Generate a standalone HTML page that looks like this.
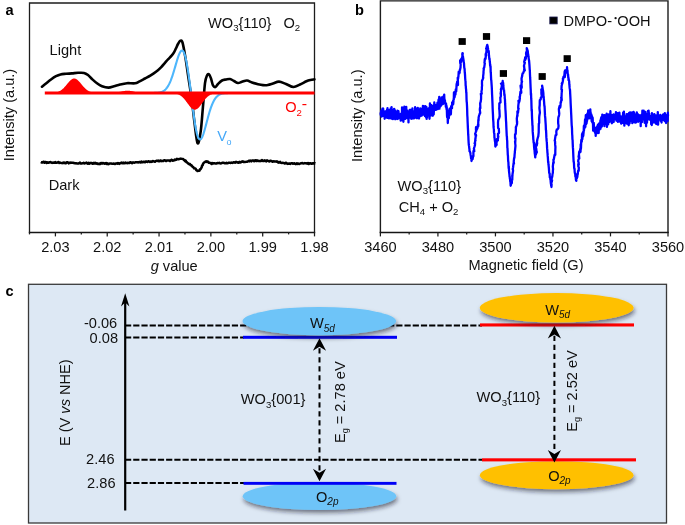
<!DOCTYPE html>
<html><head><meta charset="utf-8"><style>
html,body{margin:0;padding:0;background:#fff;width:685px;height:525px;overflow:hidden}
svg{display:block;will-change:transform}
.t{font-family:"Liberation Sans", sans-serif;font-size:14.6px;fill:#111}
.sub{font-size:9.6px}
.subi{font-size:10px;font-style:italic}
.lbl{font-family:"Liberation Sans", sans-serif;font-size:14.6px;font-weight:bold;fill:#000}
</style></head><body>
<svg width="685" height="525" viewBox="0 0 685 525">
<rect width="685" height="525" fill="#fff"/>
<path d="M29.5,232.5 V3.0 H314.5 V232.5" fill="none" stroke="#1c1c1c" stroke-width="1.3"/>
<line x1="28.85" y1="232.5" x2="315.15" y2="232.5" stroke="#151515" stroke-width="1.45"/>
<line x1="29.50" y1="232.0" x2="29.50" y2="234.4" stroke="#1c1c1c" stroke-width="1.25"/>
<line x1="55.41" y1="232.0" x2="55.41" y2="236.4" stroke="#1c1c1c" stroke-width="1.25"/>
<text x="55.41" y="251.6" text-anchor="middle" class="t">2.03</text>
<line x1="81.32" y1="232.0" x2="81.32" y2="234.4" stroke="#1c1c1c" stroke-width="1.25"/>
<line x1="107.23" y1="232.0" x2="107.23" y2="236.4" stroke="#1c1c1c" stroke-width="1.25"/>
<text x="107.23" y="251.6" text-anchor="middle" class="t">2.02</text>
<line x1="133.14" y1="232.0" x2="133.14" y2="234.4" stroke="#1c1c1c" stroke-width="1.25"/>
<line x1="159.05" y1="232.0" x2="159.05" y2="236.4" stroke="#1c1c1c" stroke-width="1.25"/>
<text x="159.05" y="251.6" text-anchor="middle" class="t">2.01</text>
<line x1="184.96" y1="232.0" x2="184.96" y2="234.4" stroke="#1c1c1c" stroke-width="1.25"/>
<line x1="210.87" y1="232.0" x2="210.87" y2="236.4" stroke="#1c1c1c" stroke-width="1.25"/>
<text x="210.87" y="251.6" text-anchor="middle" class="t">2.00</text>
<line x1="236.78" y1="232.0" x2="236.78" y2="234.4" stroke="#1c1c1c" stroke-width="1.25"/>
<line x1="262.69" y1="232.0" x2="262.69" y2="236.4" stroke="#1c1c1c" stroke-width="1.25"/>
<text x="262.69" y="251.6" text-anchor="middle" class="t">1.99</text>
<line x1="288.60" y1="232.0" x2="288.60" y2="234.4" stroke="#1c1c1c" stroke-width="1.25"/>
<line x1="314.51" y1="232.0" x2="314.51" y2="236.4" stroke="#1c1c1c" stroke-width="1.25"/>
<text x="314.51" y="251.6" text-anchor="middle" class="t">1.98</text>
<path d="M42.00,86.70 C42.67,86.17 44.50,84.70 46.00,83.50 C47.50,82.30 49.33,80.72 51.00,79.50 C52.67,78.28 54.42,77.05 56.00,76.20 C57.58,75.35 58.83,74.80 60.50,74.40 C62.17,74.00 64.08,73.97 66.00,73.80 C67.92,73.63 70.00,73.57 72.00,73.40 C74.00,73.23 76.00,72.88 78.00,72.80 C80.00,72.72 82.33,72.53 84.00,72.90 C85.67,73.27 86.67,73.98 88.00,75.00 C89.33,76.02 90.50,77.62 92.00,79.00 C93.50,80.38 95.33,82.10 97.00,83.30 C98.67,84.50 100.08,85.48 102.00,86.20 C103.92,86.92 106.50,87.58 108.50,87.60 C110.50,87.62 112.08,86.82 114.00,86.30 C115.92,85.78 117.83,85.02 120.00,84.50 C122.17,83.98 124.50,83.40 127.00,83.20 C129.50,83.00 132.90,83.62 135.00,83.30 C137.10,82.98 137.93,82.10 139.60,81.30 C141.27,80.50 143.22,79.43 145.00,78.50 C146.78,77.57 148.47,76.82 150.30,75.70 C152.13,74.58 154.22,73.20 156.00,71.80 C157.78,70.40 159.50,68.80 161.00,67.30 C162.50,65.80 163.83,64.12 165.00,62.80 C166.17,61.48 166.90,60.58 168.00,59.40 C169.10,58.22 170.60,56.87 171.60,55.70 C172.60,54.53 173.27,53.63 174.00,52.40 C174.73,51.17 175.33,49.70 176.00,48.30 C176.67,46.90 177.28,45.25 178.00,44.00 C178.72,42.75 179.55,41.05 180.30,40.80 C181.05,40.55 181.67,39.82 182.50,42.50 C183.33,45.18 184.28,50.85 185.30,56.90 C186.32,62.95 187.50,71.50 188.60,78.80 C189.70,86.10 190.92,93.40 191.90,100.70 C192.88,108.00 193.55,115.50 194.50,122.60 C195.45,129.70 196.57,141.83 197.60,143.30 C198.63,144.77 199.82,137.40 200.70,131.40 C201.58,125.40 202.18,115.33 202.90,107.30 C203.62,99.27 204.32,88.50 205.00,83.20 C205.68,77.90 206.33,77.00 207.00,75.50 C207.67,74.00 208.33,73.70 209.00,74.20 C209.67,74.70 210.33,76.63 211.00,78.50 C211.67,80.37 212.25,83.98 213.00,85.40 C213.75,86.82 214.67,87.23 215.50,87.00 C216.33,86.77 216.92,85.08 218.00,84.00 C219.08,82.92 220.67,81.25 222.00,80.50 C223.33,79.75 224.67,79.75 226.00,79.50 C227.33,79.25 228.67,78.75 230.00,79.00 C231.33,79.25 232.67,80.33 234.00,81.00 C235.33,81.67 236.67,82.87 238.00,83.00 C239.33,83.13 240.50,82.22 242.00,81.80 C243.50,81.38 245.33,80.38 247.00,80.50 C248.67,80.62 250.17,81.88 252.00,82.50 C253.83,83.12 256.17,83.77 258.00,84.20 C259.83,84.63 261.37,84.97 263.00,85.10 C264.63,85.23 266.13,85.27 267.80,85.00 C269.47,84.73 271.13,84.07 273.00,83.50 C274.87,82.93 276.83,81.52 279.00,81.60 C281.17,81.68 283.58,83.10 286.00,84.00 C288.42,84.90 291.17,86.92 293.50,87.00 C295.83,87.08 297.85,85.45 300.00,84.50 C302.15,83.55 304.65,82.05 306.40,81.30 C308.15,80.55 309.17,80.32 310.50,80.00 C311.83,79.68 313.75,79.50 314.40,79.40" fill="none" stroke="#000" stroke-width="2.6" stroke-linejoin="round" stroke-linecap="round"/>
<path d="M150.00,92.99 L150.50,92.99 L151.00,92.98 L151.50,92.98 L152.00,92.97 L152.50,92.97 L153.00,92.96 L153.50,92.95 L154.00,92.94 L154.50,92.92 L155.00,92.91 L155.50,92.88 L156.00,92.86 L156.50,92.83 L157.00,92.79 L157.50,92.74 L158.00,92.69 L158.50,92.63 L159.00,92.55 L159.50,92.46 L160.00,92.36 L160.50,92.24 L161.00,92.10 L161.50,91.93 L162.00,91.74 L162.50,91.53 L163.00,91.28 L163.50,90.99 L164.00,90.66 L164.50,90.30 L165.00,89.88 L165.50,89.41 L166.00,88.89 L166.50,88.31 L167.00,87.66 L167.50,86.95 L168.00,86.16 L168.50,85.30 L169.00,84.37 L169.50,83.35 L170.00,82.25 L170.50,81.08 L171.00,79.82 L171.50,78.48 L172.00,77.07 L172.50,75.58 L173.00,74.03 L173.50,72.43 L174.00,70.77 L174.50,69.07 L175.00,67.35 L175.50,65.61 L176.00,63.88 L176.50,62.17 L177.00,60.49 L177.50,58.88 L178.00,57.34 L178.50,55.90 L179.00,54.59 L179.50,53.42 L180.00,52.42 L180.50,51.61 L181.00,51.00 L181.50,50.63 L182.00,50.50 L182.50,50.63 L183.00,51.04 L183.50,51.74 L184.00,52.73 L184.50,54.01 L185.00,55.59 L185.50,57.47 L186.00,59.64 L186.50,62.08 L187.00,64.79 L187.50,67.73 L188.00,70.91 L188.50,74.27 L189.00,77.81 L189.50,81.48 L190.00,85.26 L190.50,89.11 L191.00,93.00 L191.50,97.25 L192.00,101.47 L192.50,105.60 L193.00,109.62 L193.50,113.49 L194.00,117.17 L194.50,120.64 L195.00,123.87 L195.50,126.83 L196.00,129.50 L196.50,131.87 L197.00,133.93 L197.50,135.66 L198.00,137.07 L198.50,138.15 L199.00,138.91 L199.50,139.35 L200.00,139.50 L200.50,139.36 L201.00,138.95 L201.50,138.29 L202.00,137.40 L202.50,136.30 L203.00,135.02 L203.50,133.59 L204.00,132.02 L204.50,130.33 L205.00,128.57 L205.50,126.74 L206.00,124.86 L206.50,122.97 L207.00,121.07 L207.50,119.18 L208.00,117.32 L208.50,115.51 L209.00,113.75 L209.50,112.06 L210.00,110.43 L210.50,108.89 L211.00,107.42 L211.50,106.05 L212.00,104.76 L212.50,103.56 L213.00,102.45 L213.50,101.42 L214.00,100.48 L214.50,99.62 L215.00,98.84 L215.50,98.13 L216.00,97.50 L216.50,96.92 L217.00,96.41 L217.50,95.96 L218.00,95.56 L218.50,95.20 L219.00,94.89 L219.50,94.61 L220.00,94.37 L220.50,94.17 L221.00,93.99 L221.50,93.83 L222.00,93.70 L222.50,93.59 L223.00,93.49 L223.50,93.41 L224.00,93.34 L224.50,93.28 L225.00,93.23 L225.50,93.19 L226.00,93.16 L226.50,93.13 L227.00,93.10 L227.50,93.08 L228.00,93.07 L228.50,93.05 L229.00,93.04 L229.50,93.03 L230.00,93.03 L230.50,93.02 L231.00,93.02 L231.50,93.01 L232.00,93.01" fill="none" stroke="#4db6fc" stroke-width="2.1"/>
<path d="M41.00,161.99 L41.38,162.36 L41.80,162.16 L42.27,162.44 L42.78,162.48 L43.34,161.81 L43.93,161.76 L44.55,162.76 L45.20,162.08 L45.89,162.06 L46.60,162.98 L47.33,162.36 L48.09,162.81 L48.86,162.39 L49.65,162.60 L50.44,162.02 L51.25,162.62 L52.07,162.91 L52.89,162.51 L53.71,162.78 L54.53,162.71 L55.35,162.00 L56.15,162.84 L56.95,162.66 L57.74,162.32 L58.51,162.01 L59.27,163.03 L60.00,162.57 L60.69,162.88 L61.38,163.08 L62.06,162.89 L62.73,163.16 L63.40,162.54 L64.06,163.04 L64.72,162.62 L65.38,163.22 L66.05,163.17 L66.71,162.24 L67.37,162.30 L68.04,162.41 L68.71,163.33 L69.39,162.70 L70.07,162.95 L70.76,162.57 L71.46,162.83 L72.17,162.70 L72.89,162.67 L73.62,162.97 L74.36,162.98 L75.11,163.38 L75.89,163.13 L76.67,163.45 L77.48,163.38 L78.30,163.55 L79.14,163.19 L80.00,162.60 L80.60,163.45 L81.22,163.58 L81.85,163.53 L82.49,163.14 L83.15,163.33 L83.81,162.74 L84.49,163.51 L85.18,163.21 L85.88,162.89 L86.58,162.64 L87.29,163.61 L88.02,163.79 L88.74,162.73 L89.47,163.60 L90.21,163.16 L90.95,162.87 L91.70,163.06 L92.45,163.65 L93.20,163.79 L93.95,162.82 L94.70,163.52 L95.45,162.86 L96.21,163.68 L96.96,163.24 L97.70,163.92 L98.45,164.05 L99.19,163.50 L99.93,164.10 L100.66,163.29 L101.39,163.03 L102.11,163.67 L102.82,163.00 L103.53,163.21 L104.22,163.47 L104.91,163.72 L105.59,163.18 L106.25,163.05 L106.91,164.04 L107.55,163.38 L108.18,164.15 L108.80,164.08 L109.63,163.45 L110.44,163.54 L111.23,163.60 L112.02,163.74 L112.79,163.67 L113.55,163.61 L114.29,163.66 L115.03,164.03 L115.76,163.48 L116.47,163.37 L117.18,163.69 L117.88,163.09 L118.58,163.13 L119.27,163.92 L119.95,163.34 L120.63,163.34 L121.30,162.66 L121.97,163.11 L122.64,163.28 L123.30,162.57 L123.97,163.25 L124.63,163.24 L125.29,162.52 L125.96,163.16 L126.62,162.93 L127.29,163.15 L127.96,162.73 L128.64,163.12 L129.32,163.12 L130.00,162.23 L130.74,162.24 L131.49,162.94 L132.24,163.24 L133.00,162.35 L133.76,162.55 L134.52,162.67 L135.29,162.30 L136.05,162.31 L136.82,162.21 L137.58,162.23 L138.35,162.45 L139.11,162.05 L139.86,162.10 L140.61,162.53 L141.36,161.59 L142.09,162.19 L142.82,162.34 L143.54,161.79 L144.25,161.64 L144.95,162.29 L145.63,161.57 L146.30,161.46 L146.96,161.72 L147.60,161.99 L148.23,161.24 L148.84,161.46 L149.43,161.44 L150.00,162.00 L150.95,161.46 L151.86,161.90 L152.71,161.02 L153.52,161.16 L154.29,161.48 L155.03,161.71 L155.73,161.13 L156.41,160.81 L157.07,160.63 L157.71,161.07 L158.33,160.62 L158.95,161.32 L159.56,161.31 L160.17,160.49 L160.78,160.57 L161.40,161.17 L162.22,160.94 L163.03,161.11 L163.81,160.55 L164.57,160.28 L165.31,160.48 L166.04,161.08 L166.74,160.45 L167.43,160.53 L168.10,160.61 L168.75,160.59 L169.38,160.54 L170.00,161.10 L170.89,160.08 L171.73,159.76 L172.53,160.73 L173.29,160.48 L174.01,160.43 L174.70,159.60 L175.36,160.07 L176.00,159.91 L176.93,158.88 L177.74,159.33 L178.50,159.29 L179.23,158.99 L180.00,158.82 L180.77,158.62 L181.50,158.80 L182.26,158.87 L183.07,159.00 L184.00,160.11 L184.52,160.06 L185.09,161.07 L185.68,160.57 L186.30,162.07 L186.94,162.30 L187.58,163.08 L188.21,163.55 L188.83,164.05 L189.43,164.14 L190.00,163.92 L190.61,165.28 L191.21,165.08 L191.80,165.72 L192.37,166.64 L192.94,166.95 L193.48,167.27 L194.01,168.34 L194.52,168.36 L195.00,168.41 L195.68,168.86 L196.31,170.16 L196.91,170.22 L197.46,171.00 L197.99,170.75 L198.50,170.64 L199.06,170.81 L199.57,170.64 L200.05,169.17 L200.52,169.13 L201.00,168.51 L201.36,167.78 L201.71,167.14 L202.06,165.46 L202.41,165.49 L202.77,165.09 L203.13,163.49 L203.50,163.23 L204.17,162.45 L204.86,162.13 L205.55,161.55 L206.20,161.37 L206.99,161.87 L207.73,161.42 L208.50,161.97 L208.71,162.46 L208.94,162.85 L211.00,162.98 L211.42,164.07 L211.89,163.93 L212.41,163.00 L212.97,163.49 L213.56,163.26 L214.19,163.25 L214.85,163.27 L215.54,163.61 L216.26,163.52 L217.00,163.22 L217.76,162.99 L218.53,163.13 L219.32,162.85 L220.12,163.34 L220.92,163.50 L221.73,163.06 L222.54,162.67 L223.35,162.75 L224.15,162.94 L224.95,163.18 L225.73,163.36 L226.50,162.84 L227.25,163.31 L227.97,163.06 L228.68,162.79 L229.35,162.68 L230.00,162.80 L230.80,163.00 L231.59,162.61 L232.35,162.89 L233.11,162.55 L233.85,162.24 L234.58,162.53 L235.30,162.66 L236.02,161.86 L236.72,162.22 L237.42,162.16 L238.11,162.64 L238.80,162.65 L239.48,161.91 L240.16,162.48 L240.85,162.29 L241.53,161.60 L242.21,161.78 L242.90,161.31 L243.60,162.08 L244.29,161.85 L245.00,162.06 L245.71,161.90 L246.42,161.69 L247.12,161.71 L247.83,161.44 L248.53,160.83 L249.23,161.35 L249.93,160.58 L250.63,160.69 L251.34,161.38 L252.04,160.45 L252.74,160.44 L253.44,160.40 L254.14,161.28 L254.84,160.39 L255.55,160.16 L256.25,161.11 L256.96,160.21 L257.67,161.05 L258.38,160.82 L259.09,161.01 L259.80,161.14 L260.51,160.70 L261.23,160.97 L261.95,160.07 L262.67,160.97 L263.39,160.69 L264.11,160.97 L264.83,160.28 L265.55,161.09 L266.28,161.36 L267.00,160.36 L267.73,160.73 L268.45,161.07 L269.18,161.45 L269.90,160.81 L270.63,160.80 L271.36,160.95 L272.09,161.46 L272.81,161.69 L273.54,161.33 L274.27,161.37 L275.00,161.48 L275.69,161.49 L276.36,161.66 L277.02,161.34 L277.66,161.94 L278.30,162.60 L278.94,162.03 L279.57,162.54 L280.20,161.95 L280.83,162.69 L281.47,162.88 L282.11,162.90 L282.77,162.82 L283.43,162.88 L284.11,163.18 L284.81,163.58 L285.53,162.78 L286.27,162.80 L287.04,163.67 L287.83,163.94 L288.65,163.53 L289.51,163.49 L290.40,163.86 L290.99,163.24 L291.61,163.36 L292.26,163.29 L292.94,163.76 L293.65,163.44 L294.38,163.35 L295.12,163.90 L295.89,164.21 L296.68,163.41 L297.48,163.90 L298.28,163.53 L299.10,164.05 L299.93,163.71 L300.76,163.31 L301.59,163.24 L302.42,162.98 L303.25,163.51 L304.07,163.37 L304.89,163.10 L305.70,163.30 L306.49,163.23 L307.27,163.75 L308.03,162.97 L308.77,163.97 L309.50,163.33 L310.19,163.45 L310.86,163.27 L311.51,163.69 L312.12,163.66 L312.70,163.33 L313.24,163.22 L313.74,163.49 L314.20,163.64 L314.63,163.09 L315.00,163.48" fill="none" stroke="#000" stroke-width="2.5" stroke-linejoin="round"/>
<path d="M44.80,93.00 L45.30,93.00 L45.80,92.99 L46.30,92.99 L46.80,92.99 L47.30,92.99 L47.80,92.98 L48.30,92.98 L48.80,92.97 L49.30,92.96 L49.80,92.95 L50.30,92.94 L50.80,92.93 L51.30,92.91 L51.80,92.89 L52.30,92.86 L52.80,92.82 L53.30,92.79 L53.80,92.74 L54.30,92.68 L54.80,92.62 L55.30,92.54 L55.80,92.45 L56.30,92.34 L56.80,92.22 L57.30,92.08 L57.80,91.92 L58.30,91.73 L58.80,91.53 L59.30,91.30 L59.80,91.04 L60.30,90.75 L60.80,90.43 L61.30,90.09 L61.80,89.71 L62.30,89.30 L62.80,88.86 L63.30,88.39 L63.80,87.89 L64.30,87.37 L64.80,86.82 L65.30,86.25 L65.80,85.66 L66.30,85.06 L66.80,84.45 L67.30,83.84 L67.80,83.23 L68.30,82.64 L68.80,82.05 L69.30,81.50 L69.80,80.97 L70.30,80.48 L70.80,80.03 L71.30,79.63 L71.80,79.28 L72.30,79.00 L72.80,78.77 L73.30,78.61 L73.80,78.52 L74.30,78.50 L74.80,78.55 L75.30,78.67 L75.80,78.85 L76.30,79.10 L76.80,79.42 L77.30,79.78 L77.80,80.20 L78.30,80.67 L78.80,81.18 L79.30,81.72 L79.80,82.28 L80.30,82.87 L80.80,83.47 L81.30,84.08 L81.80,84.69 L82.30,85.30 L82.80,85.89 L83.30,86.48 L83.80,87.04 L84.30,87.58 L84.80,88.09 L85.30,88.58 L85.80,89.04 L86.30,89.47 L86.80,89.86 L87.30,90.23 L87.80,90.56 L88.30,90.87 L88.80,91.14 L89.30,91.39 L89.80,91.61 L90.30,91.81 L90.80,91.98 L91.30,92.14 L91.80,92.27 L92.30,92.38 L92.80,92.48 L93.30,92.57 L93.80,92.64 L94.30,92.71 L94.80,92.76 L95.30,92.80 L95.80,92.84 L96.30,92.87 L96.80,92.89 L97.30,92.92 L97.80,92.93 L98.30,92.95 L98.80,92.96 L99.30,92.97 L99.80,92.97 L100.30,92.98 L100.80,92.98 L101.30,92.99 L101.80,92.99 L102.30,92.99 L102.80,92.99 L103.30,92.99 L103.80,92.99 L104.30,92.99 L104.80,92.99 L105.30,92.99 L105.80,92.99 L106.30,92.99 L106.80,92.99 L107.30,92.98 L107.80,92.98 L108.30,92.97 L108.80,92.96 L109.30,92.95 L109.80,92.94 L110.30,92.93 L110.80,92.92 L111.30,92.90 L111.80,92.88 L112.30,92.85 L112.80,92.82 L113.30,92.79 L113.80,92.75 L114.30,92.71 L114.80,92.66 L115.30,92.60 L115.80,92.54 L116.30,92.48 L116.80,92.41 L117.30,92.33 L117.80,92.24 L118.30,92.16 L118.80,92.06 L119.30,91.96 L119.80,91.86 L120.30,91.75 L120.80,91.65 L121.30,91.54 L121.80,91.43 L122.30,91.33 L122.80,91.23 L123.30,91.13 L123.80,91.04 L124.30,90.96 L124.80,90.89 L125.30,90.83 L125.80,90.78 L126.30,90.74 L126.80,90.71 L127.30,90.70 L127.80,90.70 L128.30,90.72 L128.80,90.75 L129.30,90.79 L129.80,90.84 L130.30,90.90 L130.80,90.98 L131.30,91.06 L131.80,91.15 L132.30,91.25 L132.80,91.35 L133.30,91.46 L133.80,91.56 L134.30,91.67 L134.80,91.78 L135.30,91.88 L135.80,91.98 L136.30,92.08 L136.80,92.17 L137.30,92.26 L137.80,92.34 L138.30,92.42 L138.80,92.49 L139.30,92.56 L139.80,92.62 L140.30,92.67 L140.80,92.72 L141.30,92.76 L141.80,92.80 L142.30,92.83 L142.80,92.86 L143.30,92.88 L143.80,92.90 L144.30,92.92 L144.80,92.93 L145.30,92.95 L145.80,92.96 L146.30,92.96 L146.80,92.97 L147.30,92.98 L147.80,92.98 L148.30,92.99 L148.80,92.99 L149.30,92.99 L149.80,92.99 L150.30,93.00 L150.80,93.00 L151.30,93.00 L151.80,93.00 L152.30,93.00 L152.80,93.00 L153.30,93.00 L153.80,93.00 L154.30,93.00 L154.80,93.00 L155.30,93.00 L155.80,93.00 L156.30,93.00 L156.80,93.00 L157.30,93.00 L157.80,93.00 L158.30,93.00 L158.80,93.00 L159.30,93.00 L159.80,93.00 L160.30,93.00 L160.80,93.00 L161.30,93.00 L161.80,93.00 L162.30,93.00 L162.80,93.00 L163.30,93.00 L163.80,93.00 L164.30,93.00 L164.80,93.00 L165.30,93.00 L165.80,93.00 L166.30,93.00 L166.80,93.00 L167.30,93.00 L167.80,93.00 L168.30,93.00 L168.80,93.00 L169.30,93.00 L169.80,93.00 L170.30,93.00 L170.80,93.00 L171.30,93.00 L171.80,93.00 L172.30,93.00 L172.80,93.00 L173.30,93.00 L173.80,93.00 L174.30,93.00 L174.80,93.00 L175.30,93.00 L175.80,93.00 L176.30,93.00 L176.80,93.00 L177.30,93.00 L177.80,93.00 L178.30,93.00 L178.80,93.00 L179.30,93.00 L179.80,93.00 L180.30,93.00 L180.80,93.00 L181.30,93.00 L181.80,93.00 L182.30,93.00 L182.80,93.00 L183.30,93.00 L183.80,93.00 L184.30,93.00 L184.80,93.00 L185.30,93.00 L185.80,93.00 L186.30,93.00 L186.80,93.00 L187.30,93.00 L187.80,93.00 L188.30,93.00 L188.80,93.00 L189.30,93.00 L189.80,93.00 L190.30,93.00 L190.80,93.00 L191.30,93.00 L191.80,93.00 L192.30,93.00 L192.80,93.00 L193.30,93.00 L193.80,93.00 L194.30,93.00 L194.80,93.00 L195.30,93.00 L195.80,93.00 L196.30,93.00 L196.80,93.00 L197.30,93.00 L197.80,93.00 L198.30,93.00 L198.80,93.00 L199.30,93.00 L199.80,93.00 L200.30,93.00 L200.80,93.00 L201.30,93.00 L201.80,93.00 L202.30,93.00 L202.80,93.00 L203.30,93.00 L203.80,93.00 L204.30,93.00 L204.80,93.00 L205.30,93.00 L205.80,93.00 L206.30,93.00 L206.80,93.00 L207.30,93.00 L207.80,93.00 L208.30,93.00 L208.80,93.00 L209.30,93.00 L209.80,93.00 L210.30,93.00 L210.80,93.00 L211.30,93.00 L211.80,93.00 L212.30,93.00 L212.80,93.00 L213.30,93.00 L213.80,93.00 L214.30,93.00 L214.80,93.00 L215.30,93.00 L215.80,93.00 L216.30,93.00 L216.80,93.00 L217.30,93.00 L217.80,93.00 L218.30,93.00 L218.80,93.00 L219.30,93.00 L219.80,93.00 L220.30,93.00 L220.80,93.00 L221.30,93.00 L221.80,93.00 L222.30,93.00 L222.80,93.00 L223.30,93.00 L223.80,93.00 L224.30,93.00 L224.80,93.00 L225.30,93.00 L225.80,93.00 L226.30,93.00 L226.80,93.00 L227.30,93.00 L227.80,93.00 L228.30,93.00 L228.80,93.00 L229.30,93.00 L229.80,93.00 L230.30,93.00 L230.80,93.00 L231.30,93.00 L231.80,93.00 L232.30,93.00 L232.80,93.00 L233.30,93.00 L233.80,93.00 L234.30,93.00 L234.80,93.00 L235.30,93.00 L235.80,93.00 L236.30,93.00 L236.80,93.00 L237.30,93.00 L237.80,93.00 L238.30,93.00 L238.80,93.00 L239.30,93.00 L239.80,93.00 L240.30,93.00 L240.80,93.00 L241.30,93.00 L241.80,93.00 L242.30,93.00 L242.80,93.00 L243.30,93.00 L243.80,93.00 L244.30,93.00 L244.80,93.00 L245.30,93.00 L245.80,93.00 L246.30,93.00 L246.80,93.00 L247.30,93.00 L247.80,93.00 L248.30,93.00 L248.80,93.00 L249.30,93.00 L249.80,93.00 L250.30,93.00 L250.80,93.00 L251.30,93.00 L251.80,93.00 L252.30,93.00 L252.80,93.00 L253.30,93.00 L253.80,93.00 L254.30,93.00 L254.80,93.00 L255.30,93.00 L255.80,93.00 L256.30,93.00 L256.80,93.00 L257.30,93.00 L257.80,93.00 L258.30,93.00 L258.80,93.00 L259.30,93.00 L259.80,93.00 L260.30,93.00 L260.80,93.00 L261.30,93.00 L261.80,93.00 L262.30,93.00 L262.80,93.00 L263.30,93.00 L263.80,93.00 L264.30,93.00 L264.80,93.00 L265.30,93.00 L265.80,93.00 L266.30,93.00 L266.80,93.00 L267.30,93.00 L267.80,93.00 L268.30,93.00 L268.80,93.00 L269.30,93.00 L269.80,93.00 L270.30,93.00 L270.80,93.00 L271.30,93.00 L271.80,93.00 L272.30,93.00 L272.80,93.00 L273.30,93.00 L273.80,93.00 L274.30,93.00 L274.80,93.00 L275.30,93.00 L275.80,93.00 L276.30,93.00 L276.80,93.00 L277.30,93.00 L277.80,93.00 L278.30,93.00 L278.80,93.00 L279.30,93.00 L279.80,93.00 L280.30,93.00 L280.80,93.00 L281.30,93.00 L281.80,93.00 L282.30,93.00 L282.80,93.00 L283.30,93.00 L283.80,93.00 L284.30,93.00 L284.80,93.00 L285.30,93.00 L285.80,93.00 L286.30,93.00 L286.80,93.00 L287.30,93.00 L287.80,93.00 L288.30,93.00 L288.80,93.00 L289.30,93.00 L289.80,93.00 L290.30,93.00 L290.80,93.00 L291.30,93.00 L291.80,93.00 L292.30,93.00 L292.80,93.00 L293.30,93.00 L293.80,93.00 L294.30,93.00 L294.80,93.00 L295.30,93.00 L295.80,93.00 L296.30,93.00 L296.80,93.00 L297.30,93.00 L297.80,93.00 L298.30,93.00 L298.80,93.00 L299.30,93.00 L299.80,93.00 L300.30,93.00 L300.80,93.00 L301.30,93.00 L301.80,93.00 L302.30,93.00 L302.80,93.00 L303.30,93.00 L303.80,93.00 L304.30,93.00 L304.80,93.00 L305.30,93.00 L305.80,93.00 L306.30,93.00 L306.80,93.00 L307.30,93.00 L307.80,93.00 L308.30,93.00 L308.80,93.00 L309.30,93.00 L309.80,93.00 L310.30,93.00 L310.80,93.00 L311.30,93.00 L311.80,93.00 L312.30,93.00 L312.80,93.00 L313.30,93.00 L313.80,93.00 L314.30,93.00 L314.5,93.0 L44.8,93.0 Z" fill="#ff0000"/>
<path d="M44.80,93.00 L45.30,93.00 L45.80,93.00 L46.30,93.00 L46.80,93.00 L47.30,93.00 L47.80,93.00 L48.30,93.00 L48.80,93.00 L49.30,93.00 L49.80,93.00 L50.30,93.00 L50.80,93.00 L51.30,93.00 L51.80,93.00 L52.30,93.00 L52.80,93.00 L53.30,93.00 L53.80,93.00 L54.30,93.00 L54.80,93.00 L55.30,93.00 L55.80,93.00 L56.30,93.00 L56.80,93.00 L57.30,93.00 L57.80,93.00 L58.30,93.00 L58.80,93.00 L59.30,93.00 L59.80,93.00 L60.30,93.00 L60.80,93.00 L61.30,93.00 L61.80,93.00 L62.30,93.00 L62.80,93.00 L63.30,93.00 L63.80,93.00 L64.30,93.00 L64.80,93.00 L65.30,93.00 L65.80,93.00 L66.30,93.00 L66.80,93.00 L67.30,93.00 L67.80,93.00 L68.30,93.00 L68.80,93.00 L69.30,93.00 L69.80,93.00 L70.30,93.00 L70.80,93.00 L71.30,93.00 L71.80,93.00 L72.30,93.00 L72.80,93.00 L73.30,93.00 L73.80,93.00 L74.30,93.00 L74.80,93.00 L75.30,93.00 L75.80,93.00 L76.30,93.00 L76.80,93.00 L77.30,93.00 L77.80,93.00 L78.30,93.00 L78.80,93.00 L79.30,93.00 L79.80,93.00 L80.30,93.00 L80.80,93.00 L81.30,93.00 L81.80,93.00 L82.30,93.00 L82.80,93.00 L83.30,93.00 L83.80,93.00 L84.30,93.00 L84.80,93.00 L85.30,93.00 L85.80,93.00 L86.30,93.00 L86.80,93.00 L87.30,93.00 L87.80,93.00 L88.30,93.00 L88.80,93.00 L89.30,93.00 L89.80,93.00 L90.30,93.00 L90.80,93.00 L91.30,93.00 L91.80,93.00 L92.30,93.00 L92.80,93.00 L93.30,93.00 L93.80,93.00 L94.30,93.00 L94.80,93.00 L95.30,93.00 L95.80,93.00 L96.30,93.00 L96.80,93.00 L97.30,93.00 L97.80,93.00 L98.30,93.00 L98.80,93.00 L99.30,93.00 L99.80,93.00 L100.30,93.00 L100.80,93.00 L101.30,93.00 L101.80,93.00 L102.30,93.00 L102.80,93.00 L103.30,93.00 L103.80,93.00 L104.30,93.00 L104.80,93.00 L105.30,93.00 L105.80,93.00 L106.30,93.00 L106.80,93.00 L107.30,93.00 L107.80,93.00 L108.30,93.00 L108.80,93.00 L109.30,93.00 L109.80,93.00 L110.30,93.00 L110.80,93.00 L111.30,93.00 L111.80,93.00 L112.30,93.00 L112.80,93.00 L113.30,93.00 L113.80,93.00 L114.30,93.00 L114.80,93.00 L115.30,93.00 L115.80,93.00 L116.30,93.00 L116.80,93.00 L117.30,93.00 L117.80,93.00 L118.30,93.00 L118.80,93.00 L119.30,93.00 L119.80,93.00 L120.30,93.00 L120.80,93.00 L121.30,93.00 L121.80,93.00 L122.30,93.00 L122.80,93.00 L123.30,93.00 L123.80,93.00 L124.30,93.00 L124.80,93.00 L125.30,93.00 L125.80,93.00 L126.30,93.00 L126.80,93.00 L127.30,93.00 L127.80,93.00 L128.30,93.00 L128.80,93.00 L129.30,93.00 L129.80,93.00 L130.30,93.00 L130.80,93.00 L131.30,93.00 L131.80,93.00 L132.30,93.00 L132.80,93.00 L133.30,93.00 L133.80,93.00 L134.30,93.00 L134.80,93.00 L135.30,93.00 L135.80,93.00 L136.30,93.00 L136.80,93.00 L137.30,93.00 L137.80,93.00 L138.30,93.00 L138.80,93.00 L139.30,93.00 L139.80,93.00 L140.30,93.00 L140.80,93.00 L141.30,93.00 L141.80,93.00 L142.30,93.00 L142.80,93.00 L143.30,93.00 L143.80,93.00 L144.30,93.00 L144.80,93.00 L145.30,93.00 L145.80,93.00 L146.30,93.00 L146.80,93.00 L147.30,93.00 L147.80,93.00 L148.30,93.00 L148.80,93.00 L149.30,93.00 L149.80,93.00 L150.30,93.00 L150.80,93.00 L151.30,93.00 L151.80,93.00 L152.30,93.00 L152.80,93.00 L153.30,93.00 L153.80,93.00 L154.30,93.00 L154.80,93.00 L155.30,93.00 L155.80,93.00 L156.30,93.00 L156.80,93.00 L157.30,93.00 L157.80,93.00 L158.30,93.00 L158.80,93.00 L159.30,93.00 L159.80,93.00 L160.30,93.00 L160.80,93.00 L161.30,93.00 L161.80,93.00 L162.30,93.00 L162.80,93.00 L163.30,93.00 L163.80,93.00 L164.30,93.00 L164.80,93.00 L165.30,93.01 L165.80,93.01 L166.30,93.01 L166.80,93.01 L167.30,93.02 L167.80,93.02 L168.30,93.03 L168.80,93.03 L169.30,93.04 L169.80,93.06 L170.30,93.07 L170.80,93.09 L171.30,93.11 L171.80,93.13 L172.30,93.16 L172.80,93.20 L173.30,93.25 L173.80,93.30 L174.30,93.36 L174.80,93.43 L175.30,93.52 L175.80,93.62 L176.30,93.73 L176.80,93.87 L177.30,94.02 L177.80,94.19 L178.30,94.39 L178.80,94.61 L179.30,94.86 L179.80,95.14 L180.30,95.45 L180.80,95.79 L181.30,96.16 L181.80,96.57 L182.30,97.01 L182.80,97.48 L183.30,97.99 L183.80,98.53 L184.30,99.10 L184.80,99.70 L185.30,100.33 L185.80,100.97 L186.30,101.63 L186.80,102.31 L187.30,102.99 L187.80,103.68 L188.30,104.35 L188.80,105.02 L189.30,105.67 L189.80,106.29 L190.30,106.88 L190.80,107.43 L191.30,107.93 L191.80,108.38 L192.30,108.77 L192.80,109.10 L193.30,109.36 L193.80,109.55 L194.30,109.66 L194.80,109.70 L195.30,109.66 L195.80,109.55 L196.30,109.36 L196.80,109.10 L197.30,108.77 L197.80,108.38 L198.30,107.93 L198.80,107.43 L199.30,106.88 L199.80,106.29 L200.30,105.67 L200.80,105.02 L201.30,104.35 L201.80,103.68 L202.30,102.99 L202.80,102.31 L203.30,101.63 L203.80,100.97 L204.30,100.33 L204.80,99.70 L205.30,99.10 L205.80,98.53 L206.30,97.99 L206.80,97.48 L207.30,97.01 L207.80,96.57 L208.30,96.16 L208.80,95.79 L209.30,95.45 L209.80,95.14 L210.30,94.86 L210.80,94.61 L211.30,94.39 L211.80,94.19 L212.30,94.02 L212.80,93.87 L213.30,93.73 L213.80,93.62 L214.30,93.52 L214.80,93.43 L215.30,93.36 L215.80,93.30 L216.30,93.25 L216.80,93.20 L217.30,93.16 L217.80,93.13 L218.30,93.11 L218.80,93.09 L219.30,93.07 L219.80,93.06 L220.30,93.04 L220.80,93.03 L221.30,93.03 L221.80,93.02 L222.30,93.02 L222.80,93.01 L223.30,93.01 L223.80,93.01 L224.30,93.01 L224.80,93.00 L225.30,93.00 L225.80,93.00 L226.30,93.00 L226.80,93.00 L227.30,93.00 L227.80,93.00 L228.30,93.00 L228.80,93.00 L229.30,93.00 L229.80,93.00 L230.30,93.00 L230.80,93.00 L231.30,93.00 L231.80,93.00 L232.30,93.00 L232.80,93.00 L233.30,93.00 L233.80,93.00 L234.30,93.00 L234.80,93.00 L235.30,93.00 L235.80,93.00 L236.30,93.00 L236.80,93.00 L237.30,93.00 L237.80,93.00 L238.30,93.00 L238.80,93.00 L239.30,93.00 L239.80,93.00 L240.30,93.00 L240.80,93.00 L241.30,93.00 L241.80,93.00 L242.30,93.00 L242.80,93.00 L243.30,93.00 L243.80,93.00 L244.30,93.00 L244.80,93.00 L245.30,93.00 L245.80,93.00 L246.30,93.00 L246.80,93.00 L247.30,93.00 L247.80,93.00 L248.30,93.00 L248.80,93.00 L249.30,93.00 L249.80,93.00 L250.30,93.00 L250.80,93.00 L251.30,93.00 L251.80,93.00 L252.30,93.00 L252.80,93.00 L253.30,93.00 L253.80,93.00 L254.30,93.00 L254.80,93.00 L255.30,93.00 L255.80,93.00 L256.30,93.00 L256.80,93.00 L257.30,93.00 L257.80,93.00 L258.30,93.00 L258.80,93.00 L259.30,93.00 L259.80,93.00 L260.30,93.00 L260.80,93.00 L261.30,93.00 L261.80,93.00 L262.30,93.00 L262.80,93.00 L263.30,93.00 L263.80,93.00 L264.30,93.00 L264.80,93.00 L265.30,93.00 L265.80,93.00 L266.30,93.00 L266.80,93.00 L267.30,93.00 L267.80,93.00 L268.30,93.00 L268.80,93.00 L269.30,93.00 L269.80,93.00 L270.30,93.00 L270.80,93.00 L271.30,93.00 L271.80,93.00 L272.30,93.00 L272.80,93.00 L273.30,93.00 L273.80,93.00 L274.30,93.00 L274.80,93.00 L275.30,93.00 L275.80,93.00 L276.30,93.00 L276.80,93.00 L277.30,93.00 L277.80,93.00 L278.30,93.00 L278.80,93.00 L279.30,93.00 L279.80,93.00 L280.30,93.00 L280.80,93.00 L281.30,93.00 L281.80,93.00 L282.30,93.00 L282.80,93.00 L283.30,93.00 L283.80,93.00 L284.30,93.00 L284.80,93.00 L285.30,93.00 L285.80,93.00 L286.30,93.00 L286.80,93.00 L287.30,93.00 L287.80,93.00 L288.30,93.00 L288.80,93.00 L289.30,93.00 L289.80,93.00 L290.30,93.00 L290.80,93.00 L291.30,93.00 L291.80,93.00 L292.30,93.00 L292.80,93.00 L293.30,93.00 L293.80,93.00 L294.30,93.00 L294.80,93.00 L295.30,93.00 L295.80,93.00 L296.30,93.00 L296.80,93.00 L297.30,93.00 L297.80,93.00 L298.30,93.00 L298.80,93.00 L299.30,93.00 L299.80,93.00 L300.30,93.00 L300.80,93.00 L301.30,93.00 L301.80,93.00 L302.30,93.00 L302.80,93.00 L303.30,93.00 L303.80,93.00 L304.30,93.00 L304.80,93.00 L305.30,93.00 L305.80,93.00 L306.30,93.00 L306.80,93.00 L307.30,93.00 L307.80,93.00 L308.30,93.00 L308.80,93.00 L309.30,93.00 L309.80,93.00 L310.30,93.00 L310.80,93.00 L311.30,93.00 L311.80,93.00 L312.30,93.00 L312.80,93.00 L313.30,93.00 L313.80,93.00 L314.30,93.00 L314.5,93.0 L44.8,93.0 Z" fill="#ff0000"/>
<line x1="44.8" y1="93.0" x2="314.5" y2="93.0" stroke="#ff0000" stroke-width="3"/>
<text x="49.6" y="54.7" class="t">Light</text>
<text x="48.7" y="190" class="t">Dark</text>
<text x="208" y="27.5" class="t">WO<tspan class="sub" dy="3.6">3</tspan><tspan dy="-3.6">{110}</tspan><tspan x="283.5">O</tspan><tspan class="sub" dy="3.6">2</tspan></text>
<text x="285.2" y="111.8" class="t" style="fill:#ff0000">O<tspan class="sub" dy="4.2">2</tspan></text><line x1="302.4" y1="104.6" x2="306.4" y2="104.6" stroke="#ff0000" stroke-width="1.2"/>
<text x="217.2" y="141.2" class="t" style="fill:#45a8f8">V<tspan class="sub" style="font-size:9px" dy="3.8" dx="-0.5">o</tspan></text>
<text x="174.2" y="271" class="t" text-anchor="middle"><tspan font-style="italic">g</tspan> value</text>
<text transform="translate(13.8,115) rotate(-90)" text-anchor="middle" class="t">Intensity (a.u.)</text>
<text x="5.6" y="15" class="lbl">a</text>
<path d="M380.4,232.5 V0.9 H668.0 V232.5" fill="none" stroke="#1c1c1c" stroke-width="1.4"/>
<line x1="379.7" y1="232.5" x2="668.7" y2="232.5" stroke="#151515" stroke-width="1.45"/>
<line x1="380.40" y1="232.0" x2="380.40" y2="236.4" stroke="#1c1c1c" stroke-width="1.25"/>
<text x="380.40" y="251.6" text-anchor="middle" class="t">3460</text>
<line x1="409.16" y1="232.0" x2="409.16" y2="234.4" stroke="#1c1c1c" stroke-width="1.25"/>
<line x1="437.92" y1="232.0" x2="437.92" y2="236.4" stroke="#1c1c1c" stroke-width="1.25"/>
<text x="437.92" y="251.6" text-anchor="middle" class="t">3480</text>
<line x1="466.68" y1="232.0" x2="466.68" y2="234.4" stroke="#1c1c1c" stroke-width="1.25"/>
<line x1="495.44" y1="232.0" x2="495.44" y2="236.4" stroke="#1c1c1c" stroke-width="1.25"/>
<text x="495.44" y="251.6" text-anchor="middle" class="t">3500</text>
<line x1="524.20" y1="232.0" x2="524.20" y2="234.4" stroke="#1c1c1c" stroke-width="1.25"/>
<line x1="552.96" y1="232.0" x2="552.96" y2="236.4" stroke="#1c1c1c" stroke-width="1.25"/>
<text x="552.96" y="251.6" text-anchor="middle" class="t">3520</text>
<line x1="581.72" y1="232.0" x2="581.72" y2="234.4" stroke="#1c1c1c" stroke-width="1.25"/>
<line x1="610.48" y1="232.0" x2="610.48" y2="236.4" stroke="#1c1c1c" stroke-width="1.25"/>
<text x="610.48" y="251.6" text-anchor="middle" class="t">3540</text>
<line x1="639.24" y1="232.0" x2="639.24" y2="234.4" stroke="#1c1c1c" stroke-width="1.25"/>
<line x1="668.00" y1="232.0" x2="668.00" y2="236.4" stroke="#1c1c1c" stroke-width="1.25"/>
<text x="668.00" y="251.6" text-anchor="middle" class="t">3560</text>
<path d="M380.60,112.56 L380.75,114.80 L380.90,112.68 L381.05,112.43 L381.20,110.67 L381.35,112.76 L381.50,116.62 L381.65,114.65 L381.80,116.44 L381.95,114.17 L382.10,114.61 L382.25,114.02 L382.40,108.67 L382.55,116.00 L382.70,115.01 L382.85,115.00 L383.00,108.67 L383.15,108.53 L383.30,111.03 L383.45,112.27 L383.60,114.53 L383.75,113.53 L383.90,115.19 L384.05,111.84 L384.20,114.61 L384.35,114.88 L384.50,111.83 L384.65,118.75 L384.80,115.40 L384.95,117.28 L385.10,112.02 L385.25,111.69 L385.40,112.86 L385.55,113.56 L385.70,115.72 L385.85,114.63 L386.00,112.63 L386.15,111.17 L386.30,112.45 L386.45,117.52 L386.60,111.65 L386.75,114.72 L386.90,115.26 L387.05,109.72 L387.20,114.20 L387.35,117.86 L387.50,108.24 L387.65,113.17 L387.80,113.81 L387.95,111.76 L388.10,115.59 L388.25,113.98 L388.40,109.92 L388.55,116.59 L388.70,116.14 L388.85,116.95 L389.00,118.40 L389.15,115.29 L389.30,114.59 L389.45,110.49 L389.60,116.06 L389.75,112.51 L389.90,112.98 L390.05,110.64 L390.20,111.51 L390.35,112.78 L390.50,118.07 L390.65,108.45 L390.80,113.36 L390.95,115.06 L391.10,118.56 L391.25,116.06 L391.40,108.89 L391.55,107.11 L391.70,112.89 L391.85,112.29 L392.00,111.19 L392.15,117.28 L392.30,117.66 L392.45,114.93 L392.60,112.73 L392.75,115.75 L392.90,119.12 L393.05,116.31 L393.20,116.03 L393.35,116.12 L393.50,109.99 L393.65,118.27 L393.80,115.34 L393.95,116.11 L394.10,108.86 L394.25,112.75 L394.40,117.04 L394.55,109.36 L394.70,114.08 L394.85,117.58 L395.00,110.83 L395.15,119.31 L395.30,116.25 L395.45,114.23 L395.60,115.61 L395.75,116.56 L395.90,115.03 L396.05,118.01 L396.20,112.78 L396.35,113.50 L396.50,117.73 L396.65,114.80 L396.80,112.17 L396.95,117.48 L397.10,118.99 L397.25,113.45 L397.40,110.75 L397.55,112.77 L397.70,114.33 L397.85,113.90 L398.00,118.84 L398.15,111.80 L398.30,118.43 L398.45,111.10 L398.60,112.50 L398.75,116.62 L398.90,118.06 L399.05,117.28 L399.20,115.80 L399.35,115.21 L399.50,115.24 L399.65,116.47 L399.80,114.29 L399.95,115.60 L400.10,116.46 L400.25,114.80 L400.40,117.01 L400.55,116.44 L400.70,120.63 L400.85,115.74 L401.00,113.55 L401.15,113.71 L401.30,114.75 L401.45,117.46 L401.60,113.80 L401.75,115.90 L401.90,120.10 L402.05,107.33 L402.20,111.50 L402.35,115.47 L402.50,115.91 L402.65,115.44 L402.80,113.49 L402.95,116.64 L403.10,115.55 L403.25,113.21 L403.40,121.76 L403.55,115.74 L403.70,115.40 L403.85,114.41 L404.00,114.03 L404.15,114.50 L404.30,106.76 L404.45,113.25 L404.60,117.58 L404.75,111.26 L404.90,112.54 L405.05,117.40 L405.20,117.11 L405.35,118.94 L405.50,109.67 L405.65,113.57 L405.80,113.60 L405.95,116.38 L406.10,117.73 L406.25,106.78 L406.40,117.70 L406.55,110.34 L406.70,116.51 L406.85,110.19 L407.00,115.02 L407.15,117.96 L407.30,114.05 L407.45,115.03 L407.60,116.78 L407.75,114.87 L407.90,114.19 L408.05,118.88 L408.20,117.47 L408.35,113.56 L408.50,122.36 L408.65,111.07 L408.80,117.03 L408.95,113.60 L409.10,111.33 L409.25,116.40 L409.40,114.99 L409.55,116.18 L409.70,109.89 L409.85,109.93 L410.00,116.08 L410.15,111.50 L410.30,111.30 L410.45,110.01 L410.60,117.93 L410.75,116.41 L410.90,118.51 L411.05,111.50 L411.20,114.22 L411.35,110.89 L411.50,116.41 L411.65,118.79 L411.80,111.58 L411.95,118.68 L412.10,117.00 L412.25,113.61 L412.40,108.39 L412.55,118.18 L412.70,113.81 L412.85,112.32 L413.00,115.22 L413.15,115.23 L413.30,118.37 L413.45,111.06 L413.60,117.29 L413.75,118.30 L413.90,118.18 L414.05,113.43 L414.20,111.78 L414.35,116.88 L414.50,114.24 L414.65,114.25 L414.80,118.01 L414.95,113.10 L415.10,107.18 L415.25,112.70 L415.40,108.43 L415.55,116.17 L415.70,114.70 L415.85,111.99 L416.00,113.71 L416.15,116.14 L416.30,113.94 L416.45,117.54 L416.60,113.49 L416.75,116.67 L416.90,117.96 L417.05,118.29 L417.20,111.65 L417.35,116.13 L417.50,108.12 L417.65,110.40 L417.80,107.83 L417.95,116.61 L418.10,109.91 L418.25,113.43 L418.40,112.89 L418.55,113.35 L418.70,111.69 L418.85,114.07 L419.00,118.56 L419.15,113.47 L419.30,114.86 L419.45,116.20 L419.60,112.71 L419.75,109.61 L419.90,111.63 L420.05,116.33 L420.20,108.42 L420.35,111.43 L420.50,116.07 L420.65,115.42 L420.80,113.12 L420.95,115.41 L421.10,113.53 L421.25,109.60 L421.40,111.88 L421.55,111.12 L421.70,115.62 L421.85,111.28 L422.00,110.28 L422.15,110.63 L422.30,108.40 L422.45,112.47 L422.60,109.36 L422.75,113.81 L422.90,105.88 L423.05,113.65 L423.20,110.81 L423.35,107.01 L423.50,114.71 L423.65,111.78 L423.80,106.09 L423.95,109.98 L424.10,113.34 L424.25,111.13 L424.40,114.69 L424.55,114.57 L424.70,114.30 L424.85,113.28 L425.00,116.17 L425.15,114.18 L425.30,116.05 L425.45,106.16 L425.60,112.09 L425.75,115.93 L425.90,111.23 L426.05,110.70 L426.20,117.65 L426.35,106.89 L426.50,113.31 L426.65,118.94 L426.80,109.18 L426.95,113.83 L427.10,117.26 L427.25,111.40 L427.40,113.34 L427.55,114.29 L427.70,109.00 L427.85,111.32 L428.00,112.39 L428.15,113.89 L428.30,111.35 L428.45,110.84 L428.60,108.41 L428.75,110.27 L428.90,113.85 L429.05,111.51 L429.20,108.69 L429.35,108.67 L429.50,118.79 L429.65,114.31 L429.80,112.80 L429.95,103.38 L430.10,112.65 L430.25,112.19 L430.40,115.62 L430.55,111.92 L430.70,110.42 L430.85,112.08 L431.00,104.86 L431.15,113.43 L431.30,111.32 L431.45,108.27 L431.60,114.09 L431.75,115.42 L431.90,106.03 L432.05,108.09 L432.20,110.79 L432.35,110.40 L432.50,108.64 L432.65,106.89 L432.80,115.78 L432.95,112.55 L433.10,106.00 L433.25,105.47 L433.40,114.22 L433.55,112.06 L433.70,114.38 L433.85,111.35 L434.00,106.38 L434.15,109.57 L434.30,102.45 L434.45,106.44 L434.60,108.34 L434.75,109.92 L434.90,106.19 L435.05,107.84 L435.20,109.42 L435.35,109.07 L435.50,109.72 L435.65,108.37 L435.80,106.71 L435.95,109.83 L436.10,107.57 L436.25,104.91 L436.40,105.37 L436.55,107.07 L436.70,106.62 L436.85,107.27 L437.00,106.68 L437.15,107.06 L437.30,106.03 L437.45,102.63 L437.60,107.36 L437.75,109.05 L437.90,107.11 L438.05,105.16 L438.20,106.85 L438.35,102.60 L438.50,99.74 L438.65,105.25 L438.80,102.22 L438.95,106.90 L439.10,101.44 L439.25,96.79 L439.40,101.22 L439.55,108.63 L439.70,102.77 L439.85,99.72 L440.00,101.29 L440.15,104.60 L440.30,104.31 L440.45,103.25 L440.60,106.24 L440.75,104.00 L440.90,101.86 L441.05,103.08 L441.20,105.39 L441.35,103.34 L441.50,103.13 L441.65,97.51 L441.80,99.50 L441.95,101.36 L442.10,98.47 L442.25,101.56 L442.40,100.08 L442.55,100.57 L442.70,97.50 L442.85,104.16 L443.00,100.67 L443.15,96.85 L443.30,97.46 L443.45,103.61 L443.60,96.18 L443.75,99.19 L443.90,99.48 L444.05,97.21 L444.20,94.56 L444.35,98.34 L444.50,99.26 L444.65,101.77 L444.80,101.56 L444.95,100.38 L445.10,103.22 L445.25,103.23 L445.40,103.22 L445.55,103.68 L445.70,103.77 L445.85,106.92 L446.00,103.36 L446.15,105.33 L446.30,108.02 L446.45,105.61 L446.60,109.54 L446.75,107.01 L446.90,111.71 L447.05,116.17 L447.20,117.37 L447.35,116.85 L447.50,117.21 L447.65,114.77 L447.80,123.07 L447.95,119.71 L448.10,119.07 L448.25,115.66 L448.40,116.97 L448.55,112.37 L448.70,118.32 L448.85,118.12 L449.00,110.45 L449.15,114.50 L449.30,115.67 L449.45,109.23 L449.60,108.68 L449.75,110.22 L449.90,110.96 L450.05,108.69 L450.20,111.95 L450.35,112.17 L450.50,112.81 L450.65,112.64 L450.80,114.29 L450.95,113.08 L451.10,106.50 L451.25,108.09 L451.40,106.26 L451.55,105.75 L451.70,107.75 L451.85,107.46 L452.00,108.15 L452.15,102.41 L452.30,102.73 L452.45,105.20 L452.60,104.18 L452.75,103.31 L452.90,103.33 L453.05,100.98 L453.20,104.03 L453.35,102.55 L453.50,100.83 L453.65,98.75 L453.80,99.38 L453.95,92.40 L454.10,96.14 L454.25,98.08 L454.40,93.62 L454.55,97.26 L454.70,96.51 L454.85,92.08 L455.00,94.27 L455.15,93.47 L455.30,94.76 L455.45,94.49 L455.60,92.20 L455.75,89.49 L455.90,90.56 L456.05,90.05 L456.20,91.33 L456.35,89.49 L456.50,86.19 L456.65,83.83 L456.80,85.48 L456.95,83.73 L457.10,81.94 L457.25,83.55 L457.40,81.72 L457.55,82.30 L457.70,82.41 L457.85,79.13 L458.00,85.02 L457.70,77.90 L458.12,78.50 L458.36,76.46 L458.42,76.57 L458.70,71.72 L458.86,72.46 L459.71,72.49 L459.40,71.80 L459.40,73.33 L459.95,69.30 L459.95,70.15 L460.51,67.60 L460.54,66.73 L460.65,65.20 L460.60,63.44 L460.25,63.19 L460.11,60.50 L461.04,62.05 L461.34,58.71 L461.61,59.22 L461.98,60.43 L462.18,57.07 L462.53,56.63 L462.43,57.13 L462.39,55.11 L462.76,53.49 L462.66,54.10 L462.20,54.11 L462.35,54.21 L462.50,53.09 L462.65,56.07 L462.80,56.92 L462.95,56.48 L463.10,57.77 L463.25,58.12 L463.40,60.76 L463.55,59.89 L463.70,62.22 L463.85,62.34 L464.00,63.38 L464.15,65.96 L464.30,67.90 L464.45,68.18 L464.60,69.17 L464.75,72.21 L464.90,73.23 L465.05,75.43 L465.20,78.48 L465.35,80.16 L465.50,80.78 L465.65,85.46 L465.80,86.12 L465.95,88.59 L466.10,89.60 L466.25,92.48 L466.40,93.37 L466.55,99.26 L466.70,101.84 L466.85,102.70 L467.00,105.78 L467.15,109.15 L467.30,115.22 L467.45,117.33 L467.60,121.27 L467.75,124.57 L467.90,128.17 L468.05,130.59 L468.20,134.69 L468.35,136.25 L468.50,140.09 L468.65,142.72 L468.80,144.79 L468.95,145.68 L469.10,146.23 L469.25,148.23 L469.40,148.60 L469.55,151.32 L469.70,151.41 L469.85,151.36 L470.00,151.73 L470.15,152.18 L470.30,152.59 L470.45,153.72 L470.60,154.89 L470.75,155.68 L470.90,156.33 L471.05,158.32 L471.20,156.50 L471.35,157.87 L471.50,161.06 L471.65,157.41 L471.80,158.96 L471.95,159.66 L472.10,159.35 L472.62,159.05 L472.82,157.59 L472.94,157.40 L472.99,156.22 L473.43,156.25 L473.38,152.57 L473.37,152.89 L473.37,153.04 L473.48,151.07 L474.03,150.19 L474.37,151.15 L474.00,148.85 L473.99,149.36 L473.89,148.57 L474.35,147.17 L474.57,146.47 L475.00,144.88 L475.07,142.54 L474.57,143.16 L474.92,142.81 L475.17,140.87 L475.50,140.50 L475.22,140.60 L475.44,137.99 L475.41,138.85 L475.41,139.39 L475.76,135.93 L476.08,135.90 L475.98,134.78 L475.65,135.85 L475.15,133.70 L475.36,133.53 L476.10,130.97 L476.37,130.89 L475.93,130.05 L476.01,127.26 L476.52,129.93 L477.38,128.44 L477.96,124.62 L478.23,126.42 L478.42,124.50 L478.21,124.15 L478.24,123.04 L478.33,119.93 L478.29,120.26 L478.54,121.01 L478.64,117.57 L478.97,115.87 L479.63,114.20 L479.99,112.92 L480.22,113.08 L480.22,112.93 L479.83,109.83 L479.98,107.85 L480.34,108.23 L480.17,103.37 L480.77,101.38 L480.79,100.91 L481.06,99.18 L481.09,95.73 L480.84,93.79 L481.71,93.57 L481.45,91.67 L481.90,89.10 L481.85,87.38 L482.09,85.09 L481.97,84.29 L482.01,80.78 L482.50,79.92 L483.26,77.78 L483.04,77.54 L483.15,76.17 L483.57,72.56 L483.44,72.29 L483.78,69.01 L483.61,68.51 L483.94,67.94 L484.19,67.56 L484.67,64.31 L484.83,63.52 L484.48,62.73 L484.81,59.82 L484.55,60.47 L484.94,58.73 L485.54,58.92 L485.77,56.35 L485.63,54.51 L486.09,55.85 L486.18,55.23 L485.82,53.50 L485.82,54.26 L486.42,52.17 L486.39,51.00 L486.53,51.40 L486.52,48.36 L486.10,48.52 L486.15,48.32 L486.49,48.35 L486.75,46.40 L486.88,46.29 L487.25,44.90 L487.40,46.03 L487.55,47.63 L487.70,46.24 L487.85,49.88 L488.00,48.13 L488.15,49.65 L488.30,50.63 L488.45,52.24 L488.60,51.07 L488.75,51.20 L488.90,54.57 L489.05,55.72 L489.20,57.65 L489.35,59.51 L489.50,58.50 L489.65,59.79 L489.80,61.75 L489.95,62.71 L490.10,65.47 L490.25,64.57 L490.40,67.16 L490.55,66.32 L490.70,72.16 L490.85,73.19 L491.00,76.54 L491.15,79.89 L491.30,80.26 L491.45,82.41 L491.60,84.61 L491.75,86.79 L491.90,89.76 L492.05,94.01 L492.20,96.80 L492.35,100.34 L492.50,103.73 L492.65,108.34 L492.80,111.54 L492.95,114.42 L493.10,118.41 L493.25,120.67 L493.40,122.42 L493.55,127.02 L493.70,128.17 L493.85,128.80 L494.00,132.41 L494.15,133.42 L494.30,133.27 L494.45,137.63 L494.60,137.91 L494.75,139.81 L494.90,140.72 L495.05,141.98 L495.20,142.17 L495.35,146.53 L495.50,145.48 L495.65,145.26 L495.80,145.66 L496.68,144.78 L496.53,144.66 L496.49,142.62 L496.71,142.10 L497.05,138.96 L497.38,140.03 L497.90,140.37 L497.74,140.18 L498.15,137.31 L498.30,136.48 L497.97,137.17 L498.00,133.72 L498.75,133.30 L499.01,132.55 L498.84,128.79 L498.10,128.01 L498.03,123.71 L498.01,122.49 L498.25,119.94 L499.20,117.95 L499.53,116.93 L499.69,116.23 L499.46,110.64 L499.20,108.42 L499.31,107.24 L499.35,103.18 L500.51,102.59 L500.43,100.48 L500.32,97.52 L500.81,96.59 L500.91,92.75 L500.59,94.00 L501.16,90.29 L501.14,90.16 L500.83,89.34 L501.12,88.60 L501.44,89.13 L501.47,87.45 L501.84,86.14 L502.23,86.36 L502.03,86.61 L501.51,84.00 L500.98,83.62 L501.28,83.99 L502.55,82.62 L502.70,80.99 L502.85,85.82 L503.00,85.67 L503.15,82.88 L503.30,85.70 L503.45,87.16 L503.60,88.62 L503.75,89.35 L503.90,89.56 L504.05,89.98 L504.20,92.26 L504.35,95.19 L504.50,94.02 L504.65,95.79 L504.80,98.70 L504.95,99.22 L505.10,103.19 L505.25,105.66 L505.40,109.23 L505.55,111.07 L505.70,113.85 L505.85,117.26 L506.00,120.54 L506.15,122.25 L506.30,126.38 L506.45,129.79 L506.60,132.84 L506.75,136.06 L506.90,136.65 L507.05,139.85 L507.20,140.89 L507.35,147.73 L507.50,148.22 L507.65,151.64 L507.80,154.85 L507.95,155.74 L508.10,159.83 L508.25,161.65 L508.40,162.10 L508.55,165.86 L508.70,168.38 L508.85,166.64 L509.00,171.17 L509.15,172.08 L509.30,173.69 L509.45,174.97 L509.60,177.01 L509.75,176.85 L509.90,179.01 L510.05,179.03 L510.20,181.34 L510.35,180.30 L510.50,183.16 L510.65,185.81 L510.80,185.27 L510.95,184.80 L511.10,183.38 L511.33,183.11 L511.46,183.33 L511.81,183.17 L511.89,181.62 L511.73,180.83 L512.28,179.31 L512.25,179.90 L512.34,176.99 L512.20,175.77 L512.45,176.25 L512.50,174.18 L512.78,172.56 L513.06,170.92 L512.98,169.82 L512.72,169.20 L513.10,167.21 L513.60,162.84 L513.98,163.59 L513.74,161.35 L514.11,158.03 L514.39,157.90 L514.61,154.64 L514.86,152.46 L514.86,151.59 L515.06,150.06 L515.47,145.77 L515.39,144.98 L515.04,141.56 L515.20,143.16 L515.45,138.23 L515.03,138.24 L515.07,134.35 L515.53,134.09 L515.71,133.77 L515.97,126.66 L515.77,127.11 L516.32,126.28 L517.08,123.79 L517.13,121.33 L517.01,122.62 L516.81,118.55 L517.31,114.90 L517.51,115.92 L517.41,111.39 L517.99,112.90 L518.36,109.39 L518.65,108.61 L518.16,108.33 L518.30,105.60 L518.67,102.54 L518.42,100.84 L518.92,102.69 L519.52,100.92 L519.93,97.96 L519.74,98.58 L519.61,96.99 L520.04,95.98 L520.45,91.63 L520.90,92.64 L521.29,92.83 L521.23,91.52 L521.10,90.55 L520.55,85.75 L520.95,87.50 L521.79,86.71 L521.65,87.81 L521.55,82.77 L521.85,82.25 L522.04,81.43 L521.66,81.14 L521.57,78.44 L521.40,78.96 L522.27,75.59 L522.16,75.52 L522.59,73.41 L523.32,72.95 L523.95,70.82 L524.36,68.64 L524.80,70.43 L524.28,68.43 L524.14,66.37 L523.92,66.13 L523.90,65.96 L524.84,62.79 L524.28,62.79 L524.54,62.59 L524.22,61.70 L524.78,59.91 L525.28,57.13 L525.14,60.02 L525.87,58.23 L525.88,57.13 L526.30,56.07 L526.36,55.95 L526.16,54.50 L526.06,53.16 L526.09,52.81 L526.37,52.33 L526.48,51.68 L527.30,50.44 L527.21,51.71 L527.07,48.85 L526.89,50.38 L526.74,48.05 L526.85,49.31 L527.00,50.49 L527.15,49.55 L527.30,49.34 L527.45,50.82 L527.60,51.76 L527.75,50.89 L527.90,52.65 L528.05,54.09 L528.20,54.28 L528.35,55.58 L528.50,57.04 L528.65,58.02 L528.80,59.21 L528.95,60.10 L529.10,60.69 L529.25,62.64 L529.40,64.42 L529.55,66.66 L529.70,69.29 L529.85,70.60 L530.00,74.70 L530.15,77.94 L530.30,80.12 L530.45,84.05 L530.60,87.60 L530.75,90.01 L530.90,94.97 L531.05,93.60 L531.20,98.72 L531.35,100.37 L531.50,106.12 L531.65,110.93 L531.80,109.63 L531.95,115.32 L532.10,118.96 L532.25,121.42 L532.40,125.26 L532.55,125.65 L532.70,131.14 L532.85,133.16 L533.00,135.02 L533.15,136.42 L533.30,139.34 L533.45,140.04 L533.60,142.28 L533.75,143.13 L533.90,143.01 L534.05,146.38 L534.20,147.91 L534.35,149.71 L534.50,149.67 L534.65,151.90 L534.80,153.84 L534.95,154.51 L535.10,156.18 L535.25,157.36 L535.40,153.81 L535.67,152.00 L535.81,154.84 L536.07,153.82 L536.89,152.10 L536.47,151.03 L536.24,148.53 L535.85,147.49 L535.58,148.28 L536.16,145.29 L536.49,143.22 L537.22,142.96 L536.72,145.56 L536.66,143.58 L537.37,139.24 L537.87,137.44 L538.27,136.34 L538.63,132.77 L538.69,132.28 L538.75,127.03 L538.83,123.61 L539.19,123.12 L539.19,117.92 L539.37,115.76 L539.91,112.62 L539.56,109.62 L539.41,107.95 L539.72,104.82 L539.75,101.89 L539.83,99.94 L540.64,99.53 L540.81,98.74 L540.71,98.26 L541.14,97.13 L541.97,96.53 L541.55,94.94 L541.35,92.86 L541.45,91.90 L541.32,89.32 L542.14,90.43 L542.32,90.00 L542.21,88.86 L542.41,87.03 L542.20,86.08 L542.11,86.75 L542.15,85.65 L542.30,86.70 L542.45,87.36 L542.60,88.08 L542.75,90.26 L542.90,89.79 L543.05,91.10 L543.20,91.83 L543.35,93.06 L543.50,96.47 L543.65,98.03 L543.80,98.91 L543.95,99.97 L544.10,102.19 L544.25,104.36 L544.40,106.07 L544.55,105.98 L544.70,108.79 L544.85,112.11 L545.00,115.39 L545.15,117.11 L545.30,118.22 L545.45,121.13 L545.60,123.27 L545.75,125.46 L545.90,129.88 L546.05,130.17 L546.20,132.96 L546.35,137.15 L546.50,138.56 L546.65,141.17 L546.80,141.56 L546.95,144.78 L547.10,148.16 L547.25,149.52 L547.40,152.31 L547.55,153.42 L547.70,155.89 L547.85,157.26 L548.00,159.76 L548.15,162.37 L548.30,161.62 L548.45,164.44 L548.60,165.23 L548.75,166.86 L548.90,168.43 L549.05,170.70 L549.20,173.03 L549.35,172.99 L549.50,173.86 L549.65,173.27 L549.80,177.48 L549.95,176.85 L550.10,177.77 L550.25,177.79 L550.40,179.72 L550.55,179.75 L550.70,181.89 L550.85,183.38 L551.00,184.04 L551.15,185.73 L551.30,184.62 L551.45,187.05 L551.60,184.41 L551.26,183.31 L551.19,183.34 L551.80,181.69 L552.07,180.39 L551.86,180.18 L551.47,179.95 L551.75,177.35 L551.88,177.46 L551.81,178.10 L552.32,176.13 L552.53,174.00 L552.82,173.03 L552.87,171.40 L552.94,169.99 L553.06,169.22 L552.81,166.56 L553.34,162.17 L553.74,162.84 L553.42,159.87 L553.76,159.50 L554.41,156.01 L554.68,154.72 L555.28,154.83 L555.31,150.45 L555.44,147.00 L555.16,144.65 L555.08,141.61 L554.73,140.29 L554.75,140.97 L555.16,138.18 L555.62,135.16 L556.23,135.12 L556.45,134.64 L556.30,131.51 L556.65,130.39 L556.78,129.60 L557.53,129.19 L558.25,128.31 L558.57,125.81 L558.19,123.35 L558.08,121.93 L558.24,122.26 L558.11,120.41 L558.42,117.07 L558.76,116.50 L559.11,114.91 L559.25,113.26 L559.02,111.28 L558.87,109.00 L558.99,108.50 L559.58,106.02 L560.19,107.68 L560.53,105.54 L560.65,102.24 L560.87,102.82 L561.13,101.80 L561.53,97.36 L561.74,100.14 L561.19,97.68 L561.53,97.76 L561.66,92.28 L561.53,93.55 L561.75,92.21 L561.89,90.78 L561.92,89.61 L561.44,89.48 L561.64,85.62 L561.97,84.89 L562.08,83.77 L561.70,83.78 L562.06,82.82 L562.47,82.98 L562.66,81.96 L562.93,80.81 L562.94,79.16 L562.86,78.57 L563.20,79.28 L563.23,78.29 L563.45,76.81 L564.64,75.64 L564.86,77.05 L564.89,74.08 L564.37,74.91 L564.50,75.00 L564.85,73.03 L564.50,73.91 L564.65,71.50 L564.80,73.60 L564.95,72.49 L565.10,70.32 L565.25,72.62 L565.40,70.74 L565.55,72.97 L565.70,70.66 L565.85,71.08 L566.00,70.61 L566.15,70.59 L566.30,71.07 L566.45,69.99 L566.60,71.17 L566.75,70.31 L566.90,70.45 L567.05,67.20 L567.20,71.60 L567.35,71.21 L567.50,70.41 L567.65,73.04 L567.80,74.31 L567.95,75.70 L568.10,74.57 L568.25,77.75 L568.40,77.04 L568.55,80.20 L568.70,78.82 L568.85,80.52 L569.00,80.60 L569.15,81.04 L569.30,84.22 L569.45,85.36 L569.60,87.39 L569.75,88.52 L569.90,89.25 L570.05,90.53 L570.20,93.90 L570.35,96.53 L570.50,99.21 L570.65,103.39 L570.80,106.18 L570.95,108.73 L571.10,112.25 L571.25,115.10 L571.40,118.53 L571.55,122.08 L571.70,125.25 L571.85,126.64 L572.00,128.64 L572.15,134.01 L572.30,135.67 L572.45,139.49 L572.60,139.98 L572.75,144.13 L572.90,147.41 L573.05,148.97 L573.20,152.61 L573.35,156.39 L573.50,159.22 L573.65,162.00 L573.80,161.87 L573.95,163.20 L574.10,166.49 L574.25,168.28 L574.40,168.92 L574.55,168.78 L574.70,171.79 L574.85,172.86 L575.00,173.66 L575.15,173.70 L575.30,175.36 L575.45,176.83 L575.60,176.71 L575.75,176.60 L575.90,179.45 L576.05,180.20 L576.20,180.01 L576.35,180.76 L576.21,178.54 L576.90,178.24 L576.75,176.99 L577.09,176.91 L577.37,177.06 L577.31,174.09 L577.37,175.61 L577.81,173.97 L577.94,172.05 L578.14,170.68 L578.70,170.82 L578.81,167.51 L578.33,166.41 L578.24,164.21 L578.69,164.76 L578.78,164.55 L578.59,162.46 L578.15,161.13 L578.54,159.23 L579.27,158.40 L579.03,155.42 L578.56,156.91 L579.03,154.09 L579.13,152.12 L580.10,150.27 L580.25,148.92 L580.40,151.98 L580.55,151.39 L580.70,144.29 L580.85,148.98 L581.00,147.89 L581.15,143.24 L581.30,140.01 L581.45,140.92 L581.60,140.27 L581.75,141.79 L581.90,139.15 L582.05,134.09 L582.20,138.88 L582.35,133.62 L582.50,138.89 L582.65,132.80 L582.80,133.30 L582.95,132.12 L583.10,132.14 L583.25,135.99 L583.40,134.13 L583.55,132.77 L583.70,131.34 L583.85,125.96 L584.00,130.34 L584.15,127.06 L584.30,125.32 L584.45,128.38 L584.60,124.61 L584.75,124.06 L584.90,122.62 L585.05,119.50 L585.20,125.56 L585.35,126.85 L585.50,123.44 L585.65,120.05 L585.80,115.23 L585.95,121.94 L586.10,124.07 L586.25,121.31 L586.40,122.43 L586.55,123.37 L586.70,122.06 L586.85,117.72 L587.00,121.04 L587.15,119.95 L587.30,113.79 L587.45,116.25 L587.60,113.34 L587.75,116.28 L587.90,117.66 L588.05,113.22 L588.20,110.42 L588.35,118.45 L588.50,115.79 L588.65,118.18 L588.80,110.84 L588.95,116.47 L589.10,116.37 L589.25,118.25 L589.40,112.46 L589.55,113.46 L589.70,112.25 L589.85,115.03 L590.00,115.09 L590.15,112.77 L590.30,109.30 L590.45,114.77 L590.60,112.05 L590.75,115.16 L590.90,114.68 L591.05,118.55 L591.20,117.85 L591.35,114.42 L591.50,116.98 L591.65,121.09 L591.80,115.91 L591.95,118.90 L592.10,121.37 L592.25,122.24 L592.40,121.18 L592.55,117.44 L592.70,118.48 L592.85,123.17 L593.00,124.41 L593.15,130.67 L593.30,122.94 L593.45,128.64 L593.60,128.33 L593.75,122.86 L593.90,125.64 L594.05,128.75 L594.20,127.73 L594.35,129.18 L594.50,131.31 L594.65,128.63 L594.80,132.27 L594.95,129.88 L595.10,130.40 L595.25,133.28 L595.40,128.57 L595.55,132.68 L595.70,135.86 L595.85,131.77 L596.00,131.13 L596.15,133.07 L596.30,130.03 L596.45,133.32 L596.60,127.05 L596.75,131.44 L596.90,128.23 L597.05,127.12 L597.20,133.16 L597.35,126.23 L597.50,132.39 L597.65,129.31 L597.80,130.99 L597.95,124.64 L598.10,130.32 L598.25,130.83 L598.40,126.03 L598.55,125.76 L598.70,133.03 L598.85,126.19 L599.00,124.22 L599.15,123.40 L599.30,126.30 L599.45,125.76 L599.60,125.10 L599.75,129.38 L599.90,123.24 L600.05,125.38 L600.20,128.05 L600.35,120.74 L600.50,126.50 L600.65,128.64 L600.80,119.25 L600.95,119.86 L601.10,119.90 L601.25,117.43 L601.40,123.98 L601.55,117.16 L601.70,123.87 L601.85,126.52 L602.00,117.50 L602.15,121.15 L602.30,114.64 L602.45,124.11 L602.60,119.60 L602.75,120.86 L602.90,121.69 L603.05,123.01 L603.20,123.37 L603.35,121.28 L603.50,119.55 L603.65,121.38 L603.80,117.56 L603.95,121.06 L604.10,115.19 L604.25,119.29 L604.40,126.19 L604.55,120.79 L604.70,116.83 L604.85,121.16 L605.00,117.53 L605.15,115.50 L605.30,118.09 L605.45,122.31 L605.60,121.24 L605.75,122.06 L605.90,117.34 L606.05,116.86 L606.20,123.86 L606.35,120.61 L606.50,117.11 L606.65,113.70 L606.80,115.81 L606.95,126.93 L607.10,116.38 L607.25,119.45 L607.40,120.25 L607.55,119.14 L607.70,118.76 L607.85,115.55 L608.00,116.45 L608.15,124.36 L608.30,117.24 L608.45,121.85 L608.60,114.45 L608.75,118.54 L608.90,120.06 L609.05,122.28 L609.20,115.99 L609.35,120.94 L609.50,120.30 L609.65,117.02 L609.80,120.51 L609.95,116.50 L610.10,116.77 L610.25,118.99 L610.40,111.15 L610.55,118.68 L610.70,116.07 L610.85,114.71 L611.00,117.69 L611.15,121.12 L611.30,117.71 L611.45,122.53 L611.60,115.47 L611.75,115.01 L611.90,123.30 L612.05,119.93 L612.20,121.50 L612.35,116.34 L612.50,121.05 L612.65,119.46 L612.80,120.57 L612.95,118.74 L613.10,122.15 L613.25,116.76 L613.40,115.83 L613.55,114.33 L613.70,121.96 L613.85,116.44 L614.00,115.55 L614.15,115.83 L614.30,117.26 L614.45,114.85 L614.60,117.68 L614.75,116.70 L614.90,116.91 L615.05,115.71 L615.20,118.60 L615.35,117.14 L615.50,118.80 L615.65,119.19 L615.80,119.44 L615.95,112.10 L616.10,116.89 L616.25,118.06 L616.40,120.67 L616.55,113.84 L616.70,116.34 L616.85,117.55 L617.00,115.02 L617.15,119.15 L617.30,117.10 L617.45,121.17 L617.60,114.12 L617.75,113.11 L617.90,121.89 L618.05,119.61 L618.20,119.76 L618.35,115.69 L618.50,119.74 L618.65,114.80 L618.80,121.07 L618.95,116.77 L619.10,121.17 L619.25,118.56 L619.40,112.57 L619.55,114.56 L619.70,121.56 L619.85,115.60 L620.00,117.13 L620.15,118.98 L620.30,117.03 L620.45,116.68 L620.60,118.55 L620.75,118.67 L620.90,122.65 L621.05,118.38 L621.20,123.69 L621.35,123.46 L621.50,123.21 L621.65,121.30 L621.80,118.60 L621.95,120.53 L622.10,117.80 L622.25,116.09 L622.40,118.01 L622.55,116.34 L622.70,122.95 L622.85,122.65 L623.00,114.95 L623.15,112.63 L623.30,118.03 L623.45,116.97 L623.60,115.02 L623.75,114.87 L623.90,111.64 L624.05,119.81 L624.20,117.97 L624.35,125.64 L624.50,118.06 L624.65,117.72 L624.80,122.33 L624.95,118.53 L625.10,118.62 L625.25,117.05 L625.40,116.37 L625.55,122.47 L625.70,121.02 L625.85,123.09 L626.00,117.10 L626.15,118.20 L626.30,115.55 L626.45,120.91 L626.60,114.06 L626.75,119.73 L626.90,121.27 L627.05,123.77 L627.20,115.36 L627.35,121.24 L627.50,116.01 L627.65,115.87 L627.80,114.23 L627.95,121.41 L628.10,122.84 L628.25,116.33 L628.40,115.85 L628.55,117.06 L628.70,125.31 L628.85,120.95 L629.00,116.46 L629.15,112.82 L629.30,116.07 L629.45,121.46 L629.60,123.43 L629.75,119.83 L629.90,116.00 L630.05,116.52 L630.20,112.52 L630.35,120.62 L630.50,114.83 L630.65,121.06 L630.80,113.02 L630.95,114.28 L631.10,118.80 L631.25,115.74 L631.40,120.22 L631.55,117.97 L631.70,114.53 L631.85,119.74 L632.00,120.37 L632.15,112.37 L632.30,123.21 L632.45,119.35 L632.60,120.11 L632.75,112.50 L632.90,115.80 L633.05,116.87 L633.20,121.00 L633.35,113.64 L633.50,115.30 L633.65,111.97 L633.80,117.15 L633.95,118.85 L634.10,112.95 L634.25,116.11 L634.40,119.30 L634.55,122.41 L634.70,119.74 L634.85,116.92 L635.00,114.38 L635.15,115.07 L635.30,115.86 L635.45,118.20 L635.60,117.63 L635.75,122.60 L635.90,118.59 L636.05,114.64 L636.20,122.22 L636.35,120.49 L636.50,118.02 L636.65,115.63 L636.80,112.29 L636.95,114.75 L637.10,120.35 L637.25,115.37 L637.40,113.86 L637.55,118.25 L637.70,118.39 L637.85,119.43 L638.00,119.57 L638.15,121.75 L638.30,115.22 L638.45,120.49 L638.60,114.78 L638.75,119.65 L638.90,118.15 L639.05,118.33 L639.20,120.43 L639.35,117.56 L639.50,120.84 L639.65,120.14 L639.80,117.99 L639.95,115.95 L640.10,115.40 L640.25,116.05 L640.40,116.99 L640.55,117.50 L640.70,126.21 L640.85,119.42 L641.00,119.79 L641.15,115.06 L641.30,115.49 L641.45,116.62 L641.60,118.10 L641.75,114.54 L641.90,122.21 L642.05,115.90 L642.20,120.66 L642.35,110.75 L642.50,117.51 L642.65,118.33 L642.80,118.07 L642.95,119.26 L643.10,118.33 L643.25,117.98 L643.40,112.02 L643.55,115.44 L643.70,110.71 L643.85,119.33 L644.00,118.40 L644.15,116.94 L644.30,115.12 L644.45,115.81 L644.60,122.85 L644.75,122.52 L644.90,117.33 L645.05,121.24 L645.20,112.90 L645.35,111.89 L645.50,116.10 L645.65,114.97 L645.80,115.88 L645.95,118.05 L646.10,126.28 L646.25,115.59 L646.40,117.66 L646.55,118.32 L646.70,117.42 L646.85,120.22 L647.00,122.67 L647.15,113.92 L647.30,118.00 L647.45,116.77 L647.60,118.57 L647.75,113.10 L647.90,112.45 L648.05,110.84 L648.20,119.08 L648.35,118.12 L648.50,117.78 L648.65,110.71 L648.80,116.50 L648.95,115.40 L649.10,113.49 L649.25,114.94 L649.40,119.63 L649.55,119.19 L649.70,117.55 L649.85,119.11 L650.00,115.88 L650.15,117.84 L650.30,117.76 L650.45,119.26 L650.60,117.45 L650.75,117.25 L650.90,117.28 L651.05,115.81 L651.20,124.16 L651.35,119.18 L651.50,118.94 L651.65,124.35 L651.80,125.00 L651.95,113.21 L652.10,119.75 L652.25,118.46 L652.40,123.21 L652.55,121.57 L652.70,119.99 L652.85,114.35 L653.00,115.25 L653.15,118.56 L653.30,119.25 L653.45,114.83 L653.60,116.69 L653.75,116.65 L653.90,117.99 L654.05,118.80 L654.20,117.00 L654.35,114.25 L654.50,121.45 L654.65,122.48 L654.80,117.55 L654.95,120.84 L655.10,119.16 L655.25,119.79 L655.40,119.28 L655.55,115.68 L655.70,119.56 L655.85,120.84 L656.00,115.31 L656.15,123.62 L656.30,123.98 L656.45,123.22 L656.60,123.70 L656.75,120.09 L656.90,116.96 L657.05,116.21 L657.20,115.60 L657.35,118.29 L657.50,117.87 L657.65,119.91 L657.80,112.11 L657.95,124.68 L658.10,124.58 L658.25,117.90 L658.40,119.94 L658.55,119.37 L658.70,118.78 L658.85,117.39 L659.00,117.64 L659.15,115.60 L659.30,118.51 L659.45,117.93 L659.60,118.93 L659.75,115.52 L659.90,118.11 L660.05,118.14 L660.20,119.75 L660.35,114.92 L660.50,119.22 L660.65,120.85 L660.80,119.73 L660.95,116.93 L661.10,116.58 L661.25,117.31 L661.40,120.11 L661.55,122.50 L661.70,117.54 L661.85,116.14 L662.00,119.09 L662.15,118.59 L662.30,118.29 L662.45,115.86 L662.60,117.71 L662.75,119.95 L662.90,114.54 L663.05,115.05 L663.20,119.45 L663.35,114.45 L663.50,118.32 L663.65,119.02 L663.80,117.68 L663.95,115.05 L664.10,117.83 L664.25,117.04 L664.40,118.97 L664.55,115.57 L664.70,121.17 L664.85,113.14 L665.00,117.49 L665.15,118.02 L665.30,120.79 L665.45,116.24 L665.60,119.58 L665.75,116.36 L665.90,120.14 L666.05,123.04 L666.20,116.84 L666.35,119.28 L666.50,115.31 L666.65,120.82 L666.80,121.51 L666.95,118.10 L667.10,114.71 L667.25,119.17 L667.40,121.33 L667.55,121.16 L667.70,120.36 L667.85,112.69 L668.00,116.03" fill="none" stroke="#0000ff" stroke-width="2.3" stroke-linejoin="round"/>
<rect x="458.60" y="38.10" width="7.2" height="6.8" fill="#000"/>
<rect x="482.90" y="33.10" width="7.2" height="6.8" fill="#000"/>
<rect x="499.80" y="70.10" width="7.2" height="6.8" fill="#000"/>
<rect x="523.00" y="37.20" width="7.2" height="6.8" fill="#000"/>
<rect x="538.60" y="73.10" width="7.2" height="6.8" fill="#000"/>
<rect x="563.60" y="55.20" width="7.2" height="6.8" fill="#000"/>
<rect x="549.8" y="17" width="7.4" height="6.9" fill="#000" stroke="#1a1a50" stroke-width="0.8"/>
<text x="563.4" y="25.5" class="t">DMPO-</text><circle cx="615.6" cy="18.2" r="1.15" fill="#111"/><text x="617.3" y="25.5" class="t">OOH</text>
<text x="397.6" y="190.7" class="t">WO<tspan class="sub" dy="3.6">3</tspan><tspan dy="-3.6">{110}</tspan></text>
<text x="398.7" y="211.5" class="t">CH<tspan class="sub" dy="3.6">4</tspan><tspan dy="-3.6"> + O</tspan><tspan class="sub" dy="3.6">2</tspan></text>
<text x="526" y="269.8" class="t" text-anchor="middle">Magnetic field (G)</text>
<text transform="translate(362,115.7) rotate(-90)" text-anchor="middle" class="t">Intensity (a.u.)</text>
<text x="355" y="14.9" class="lbl">b</text>
<defs><filter id="sh" x="-10%" y="-40%" width="120%" height="200%"><feGaussianBlur in="SourceAlpha" stdDeviation="1.9"/><feOffset dx="1.3" dy="2.8" result="b"/><feFlood flood-color="#1a1a2a" flood-opacity="0.55"/><feComposite in2="b" operator="in"/><feMerge><feMergeNode/><feMergeNode in="SourceGraphic"/></feMerge></filter><marker id="ah" viewBox="0 0 10 10" refX="9.5" refY="5" markerWidth="10" markerHeight="10" markerUnits="userSpaceOnUse" orient="auto"></marker></defs>
<rect x="28.5" y="284.3" width="638" height="238.7" fill="#dde8f4" stroke="#3a3a3a" stroke-width="1.3"/>
<line x1="125" y1="325.4" x2="482" y2="325.4" stroke="#000" stroke-width="2" stroke-dasharray="6.2,2.02"/>
<line x1="125" y1="337.6" x2="244" y2="337.6" stroke="#000" stroke-width="2" stroke-dasharray="6.2,2.02"/>
<line x1="125" y1="459.7" x2="482" y2="459.7" stroke="#000" stroke-width="2" stroke-dasharray="6.2,2.02"/>
<line x1="125" y1="483.1" x2="244" y2="483.1" stroke="#000" stroke-width="2" stroke-dasharray="6.2,2.02"/>
<line x1="125.2" y1="300" x2="125.2" y2="510.5" stroke="#000" stroke-width="2.2"/>
<path d="M125.2,293.2 L129.4,306.6 L125.2,302.6 L121,306.6 Z" fill="#000"/>
<rect x="243" y="335.8" width="154" height="3" fill="#0000f5"/>
<g filter="url(#sh)"><ellipse cx="319.3" cy="321.1" rx="76.8" ry="14.1" fill="#6ec4f8"/></g>
<g filter="url(#sh)"><ellipse cx="319.5" cy="496.3" rx="76.8" ry="13.8" fill="#6ec4f8"/></g>
<rect x="243.5" y="481.9" width="153" height="2.9" fill="#0000f5"/>
<rect x="480" y="323.4" width="154" height="3.1" fill="#ff0000"/>
<g filter="url(#sh)"><ellipse cx="556.7" cy="307.8" rx="76.9" ry="14.8" fill="#ffc000"/></g>
<g filter="url(#sh)"><ellipse cx="556.7" cy="475.2" rx="76.8" ry="14" fill="#ffc000"/></g>
<rect x="482" y="458.3" width="154" height="3.1" fill="#ff0000"/>
<line x1="319.5" y1="348.2" x2="319.5" y2="471.3" stroke="#000" stroke-width="2" stroke-dasharray="5.3,3.7"/>
<path d="M319.5,338.2 L326.1,350.8 L319.5,346.8 L312.9,350.8 Z" fill="#000"/>
<path d="M319.5,481.3 L326.1,468.7 L319.5,472.7 L312.9,468.7 Z" fill="#000"/>
<line x1="554.4" y1="335.8" x2="554.4" y2="452.6" stroke="#000" stroke-width="2" stroke-dasharray="5.3,3.7"/>
<path d="M554.4,325.8 L561.0,338.40000000000003 L554.4,334.40000000000003 L547.8,338.40000000000003 Z" fill="#000"/>
<path d="M554.4,462.6 L561.0,450.0 L554.4,454.0 L547.8,450.0 Z" fill="#000"/>
<text x="117.2" y="327.6" class="t" text-anchor="end">-0.06</text>
<text x="118" y="342.8" class="t" text-anchor="end">0.08</text>
<text x="114.5" y="464" class="t" text-anchor="end">2.46</text>
<text x="115.5" y="487.5" class="t" text-anchor="end">2.86</text>
<text transform="translate(69.6,402.7) rotate(-90)" text-anchor="middle" class="t">E (V <tspan font-style="italic">vs</tspan> NHE)</text>
<text x="310" y="328.4" class="t">W<tspan class="subi" dy="3.4">5d</tspan></text>
<text x="545.2" y="314.7" class="t">W<tspan class="subi" dy="3.4">5d</tspan></text>
<text x="316" y="502" class="t">O<tspan class="subi" dy="3.4">2p</tspan></text>
<text x="548.2" y="480.5" class="t">O<tspan class="subi" dy="3.4">2p</tspan></text>
<text x="240.8" y="404.2" class="t">WO<tspan class="sub" dy="3.6">3</tspan><tspan dy="-3.6">{001}</tspan></text>
<text x="476.6" y="402.2" class="t">WO<tspan class="sub" dy="3.6">3</tspan><tspan dy="-3.6">{110}</tspan></text>
<text transform="translate(344.6,402.2) rotate(-90)" text-anchor="middle" class="t">E<tspan class="sub" style="font-size:9px" dy="3.4">g</tspan><tspan dy="-3.4"> = 2.78 eV</tspan></text>
<text transform="translate(577,391) rotate(-90)" text-anchor="middle" class="t">E<tspan class="sub" style="font-size:9px" dy="3.4">g</tspan><tspan dy="-3.4"> = 2.52 eV</tspan></text>
<text x="5.6" y="295.8" class="lbl">c</text>
</svg>
</body></html>
